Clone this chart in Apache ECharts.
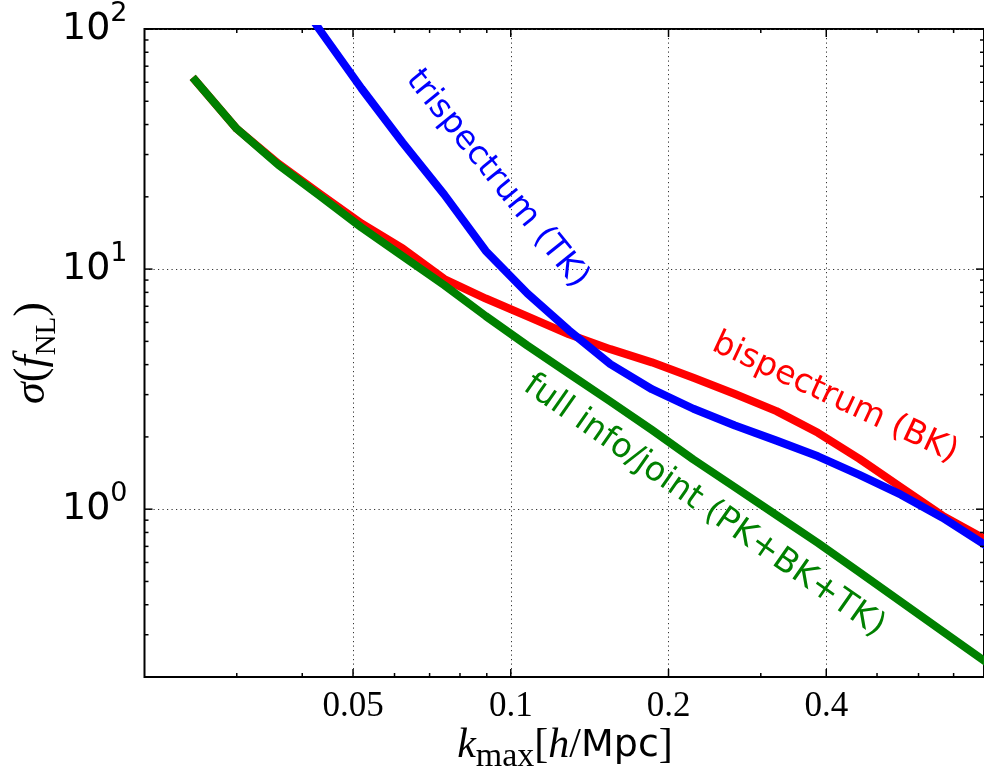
<!DOCTYPE html>
<html><head><meta charset="utf-8">
<script src="https://cdn.jsdelivr.net/npm/echarts@6/dist/echarts.min.js"></script>
<style>html,body{margin:0;padding:0;background:#fff}#c{width:984px;height:783px}</style>
</head><body><div id="c"></div>
<script>
// ---- data ----
const kmax = [0.025, 0.0300, 0.0360, 0.0432, 0.0519, 0.0622, 0.0747, 0.0896, 0.1076, 0.1291,
              0.1549, 0.1859, 0.2231, 0.2678, 0.3214, 0.3857, 0.4628, 0.5554, 0.6666, 0.8];
const sigmaBK = [61.1, 38.4, 27.5, 20.6, 15.5, 12.2, 9.09, 7.54, 6.35, 5.35,
                 4.64, 4.09, 3.53, 3.02, 2.56, 2.08, 1.62, 1.234, 0.94, 0.754];
const sigmaTK = [null, null, 180, 99.0, 56.5, 33.6, 20.4, 11.9, 7.91, 5.56,
                 4.02, 3.16, 2.62, 2.23, 1.93, 1.66, 1.39, 1.149, 0.922, 0.714];
const sigmaJoint = [61.1, 38.4, 27.2, 20.2, 14.9, 11.3, 8.56, 6.37, 4.80, 3.67,
                    2.81, 2.14, 1.61, 1.234, 0.944, 0.723, 0.546, 0.412, 0.310, 0.234];

const xMin = 0.02, xMax = 0.8, yMin = 0.2, yMax = 100;
const xTickValues = [0.05, 0.1, 0.2, 0.4];
const xTickLabels = ['0.05', '0.1', '0.2', '0.4'];
const xMinorTicks = [0.03, 0.04, 0.06, 0.07, 0.08, 0.09, 0.3, 0.5, 0.6, 0.7];
const yTickValues = [1, 10, 100];
const yTickExponents = ['0', '1', '2'];
const yMinorTicks = [0.3, 0.4, 0.5, 0.6, 0.7, 0.8, 0.9, 2, 3, 4, 5, 6, 7, 8, 9,
                     20, 30, 40, 50, 60, 70, 80, 90];

const names = ['bispectrum (BK)', 'trispectrum (TK)', 'full info/joint (PK+BK+TK)'];
const colors = ['#ff0000', '#0000ff', '#008000'];

// ---- build ----
const chart = echarts.init(document.getElementById('c'), null, {renderer: 'canvas'});

function nearestIndex(arr, v) {
  let best = 0, bd = Infinity;
  arr.forEach((a, i) => { const d = Math.abs(Math.log(a) - Math.log(v)); if (d < bd) { bd = d; best = i; } });
  return [best, bd];
}

const tickData = [];
yTickValues.forEach(v => tickData.push([xMin, v, 0]));
yMinorTicks.forEach(v => tickData.push([xMin, v, 1]));
xTickValues.forEach(v => tickData.push([v, yMin, 2]));
xMinorTicks.forEach(v => tickData.push([v, yMin, 3]));

function lineSeries(i, vals) {
  return {
    type: 'line', name: names[i], data: kmax.map((k, j) => [k, vals[j]]),
    showSymbol: false, symbol: 'none', smooth: false, connectNulls: false,
    lineStyle: {color: colors[i], width: 8, cap: 'square', join: 'round'},
    itemStyle: {color: colors[i]}, clip: true, silent: true, animation: false, z: 3 + i
  };
}

const dotted = {color: '#333', width: 1, type: [1.2, 3.3]};

const option = {
  animation: false,
  backgroundColor: '#fff',
  grid: {left: 144.5, top: 26.5, width: 843, height: 650.5, show: true,
         borderColor: '#000', borderWidth: 2, backgroundColor: 'transparent', containLabel: false},
  xAxis: {
    type: 'log', logBase: 10, min: xMin, max: xMax,
    axisLine: {show: false},
    axisTick: {show: false, customValues: xTickValues},
    axisLabel: {
      customValues: xTickValues, margin: 12, color: '#000',
      fontFamily: 'Liberation Serif', fontSize: 35,
      formatter: v => { const r = nearestIndex(xTickValues, v); return r[1] < 1e-3 ? xTickLabels[r[0]] : ''; }
    },
    splitLine: {show: true, lineStyle: dotted}
  },
  yAxis: {
    type: 'log', logBase: 10, min: yMin, max: yMax,
    axisLine: {show: false},
    axisTick: {show: false, customValues: yTickValues},
    axisLabel: {
      customValues: yTickValues, margin: 17, color: '#000',
      formatter: v => { const r = nearestIndex(yTickValues, v); return r[1] < 1e-3 ? '{b|10}{s|' + yTickExponents[r[0]] + '}' : ''; },
      rich: {
        b: {fontFamily: 'DejaVu Sans', fontSize: 38, lineHeight: 58, color: '#000'},
        s: {fontFamily: 'DejaVu Sans', fontSize: 27, lineHeight: 25, color: '#000', verticalAlign: 'top'}
      }
    },
    splitLine: {show: true, lineStyle: dotted}
  },
  series: [
    lineSeries(0, sigmaBK),
    lineSeries(1, sigmaTK),
    lineSeries(2, sigmaJoint),
    {
      type: 'custom', data: tickData, encode: {x: 0, y: 1}, silent: true, z: 10, clip: false,
      renderItem: (params, api) => {
        const kind = api.value(2);
        const p = api.coord([api.value(0), api.value(1)]);
        const cs = params.coordSys;
        const len = (kind === 0 || kind === 2) ? 8 : 4;
        const st = {stroke: '#000', lineWidth: 1.5};
        let segs;
        if (kind < 2) {
          const y = p[1];
          segs = [[cs.x, y, cs.x + len, y], [cs.x + cs.width - len, y, cs.x + cs.width, y]];
        } else {
          const x = p[0];
          segs = [[x, cs.y + cs.height, x, cs.y + cs.height - len], [x, cs.y, x, cs.y + len]];
        }
        return {type: 'group', children: segs.map(s => ({type: 'line', shape: {x1: s[0], y1: s[1], x2: s[2], y2: s[3]}, style: st}))};
      }
    }
  ],
  graphic: [
    {type: 'text', x: 497, y: 179, rotation: -51 * Math.PI / 180, z: 20,
     style: {text: names[1], fill: colors[1], fontFamily: 'DejaVu Sans', fontSize: 33, align: 'center', verticalAlign: 'middle'}},
    {type: 'text', x: 835, y: 398, rotation: -25 * Math.PI / 180, z: 20,
     style: {text: names[0], fill: colors[0], fontFamily: 'DejaVu Sans', fontSize: 33, align: 'center', verticalAlign: 'middle'}},
    {type: 'text', x: 704, y: 506, rotation: -35 * Math.PI / 180, z: 20,
     style: {text: names[2], fill: colors[2], fontFamily: 'DejaVu Sans', fontSize: 33.5, align: 'center', verticalAlign: 'middle'}},
    {type: 'text', x: 565, y: 746, z: 20,
     style: {text: '{i|k}{sub|max}{r|[}{i|h}{r|/}{m|Mpc}{r|]}', align: 'center', verticalAlign: 'middle',
       rich: {
         i: {fontFamily: 'Liberation Serif', fontStyle: 'italic', fontSize: 42, lineHeight: 56, fill: '#000'},
         r: {fontFamily: 'Liberation Serif', fontSize: 42, lineHeight: 56, fill: '#000'},
         sub: {fontFamily: 'Liberation Serif', fontSize: 34, lineHeight: 24, fill: '#000', verticalAlign: 'bottom'},
         m: {fontFamily: 'DejaVu Sans', fontSize: 38, lineHeight: 56, fill: '#000'}
       }}},
    {type: 'text', x: 32, y: 353, rotation: Math.PI / 2, z: 20,
     style: {text: '{i|σ}{r|(}{i|f}{sub|NL}{r|)}', align: 'center', verticalAlign: 'middle',
       rich: {
         i: {fontFamily: 'Liberation Serif', fontStyle: 'italic', fontSize: 44, lineHeight: 60, fill: '#000'},
         r: {fontFamily: 'Liberation Serif', fontSize: 44, lineHeight: 60, fill: '#000'},
         sub: {fontFamily: 'Liberation Serif', fontSize: 29, lineHeight: 34, fill: '#000', verticalAlign: 'bottom'}
       }}}
  ]
};
chart.setOption(option);
</script>
</body></html>
